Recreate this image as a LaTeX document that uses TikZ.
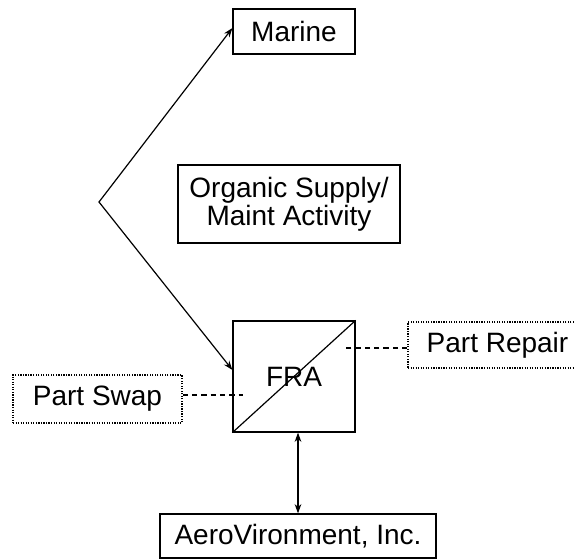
\documentclass[tikz,border=0pt]{standalone}
\usepackage{fontspec}
\setmainfont{Liberation Sans}
\usetikzlibrary{arrows.meta}
\begin{document}
\begin{tikzpicture}[x=.75pt,y=-.75pt,line width=.9pt,
    every node/.style={font=\fontsize{21}{21}\selectfont,inner sep=0pt},
    box/.style={draw},
    dotbox/.style={draw,densely dotted},
    link/.style={dash pattern=on 4pt off 3pt},
    arr/.style={{Stealth[length=7pt,width=5pt]}-{Stealth[length=7pt,width=5pt]}}]
    \useasboundingbox (0,0) rectangle (574,559);
    \clip (0,0) rectangle (574,559);
    \node[box,minimum width=91.5pt,minimum height=33.75pt] (marine) at (294,31.5) {Marine};
    \node[box,minimum width=166.5pt,minimum height=58.5pt,align=center] (organic) at (289,204) {Organic Supply/\\Maint Activity};
    \node[box,minimum width=91.5pt,minimum height=83.25pt] (fra) at (294,376.5) {FRA};
    \node[dotbox,minimum width=134.25pt,minimum height=34.5pt] (repair) at (497.5,345) {Part Repair};
    \node[dotbox,minimum width=126.75pt,minimum height=36pt] (swap) at (97.5,399) {Part Swap};
    \node[box,minimum width=207pt,minimum height=33pt] (aerov) at (298,536) {AeroVironment, Inc.};
    \draw (fra.south west) -- (fra.north east);
    \coordinate (bend) at (99,202);
    \draw[arr] ([yshift=2.6pt]marine.west) -- (bend) -- ([yshift=4.9pt]fra.west);
    \coordinate (rstub) at (344,348);
    \draw[link] (repair.west |- rstub) -- (rstub);
    \coordinate (sstub) at (243,395);
    \draw[link] (swap.east |- sstub) -- (sstub);
    \draw[arr] (aerov.north) -- (aerov.north |- fra.south);
\end{tikzpicture}
\end{document}
